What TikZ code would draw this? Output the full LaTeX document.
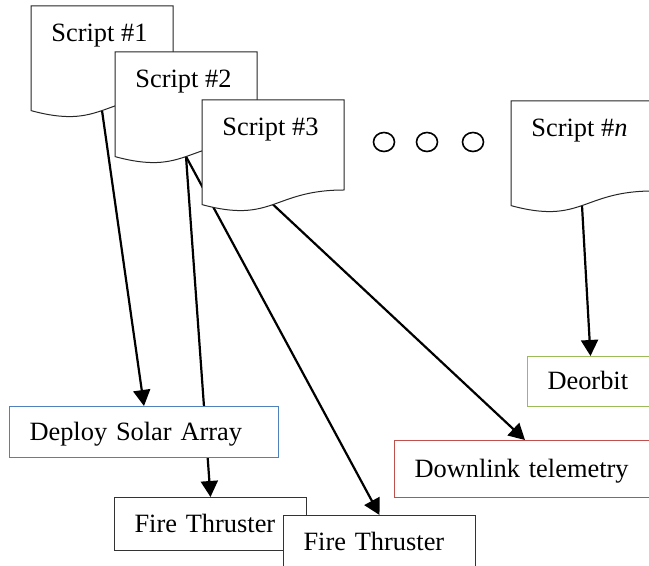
\documentclass[tikz,border=0pt]{standalone}
\usepackage{fontspec}
\setmainfont{Liberation Serif}
\usepackage{tikz}
\usetikzlibrary{arrows.meta,positioning,backgrounds}

\definecolor{solarBlue}{RGB}{79,129,189}
\definecolor{linkRed}{RGB}{192,80,77}
\definecolor{orbitGreen}{RGB}{155,187,89}

% one script sheet: name, x, y (top left), label
\newcommand{\scriptdoc}[4]{%
  \begin{scope}[shift={(#2,#3)}]
    \draw[doc] (0,0) -- (142,0) -- (142,90)
      .. controls (71,90) and (71,124) .. (0,104.6) -- cycle;
    \node[doctext] (#1) at (20,36) {#4};
    \coordinate (#1b) at (71,104.5);
  \end{scope}}

\begin{document}
\begin{tikzpicture}[x=0.5pt, y=-0.5pt,
      font=\fontsize{13.2}{15}\selectfont,
      doc/.style={draw=black!85, fill=white, line width=0.5pt},
      doctext/.style={anchor=base west, inner sep=0pt},
      bx/.style={draw, fill=white, line width=0.5pt, anchor=north west,
                 align=left, inner xsep=10pt, inner ysep=0pt, text depth=1pt},
      arr/.style={-{Triangle[length=8pt,width=8.5pt]}, line width=1.1pt}
    ]
      \useasboundingbox (0,0) rectangle (649,566);
      \clip (0,0) rectangle (649,566);
      % Scripts
      \scriptdoc{s1}{31}{6}{Script \#1}
      \scriptdoc{s2}{115}{52}{Script \#2}
      \scriptdoc{s3}{202}{100}{Script \#3}
      \scriptdoc{sn}{511}{101}{Script \#\textit{n}}
      % dots between the scripts
      \foreach \cx in {384,427,473}
        \draw[line width=0.8pt] (\cx,142) ellipse [x radius=10.5, y radius=9.5];
      % Actions
      \node[bx, draw=solarBlue, text width=114.5pt, minimum height=25.5pt] (deploy) at (9,406)
        {Deploy Solar Array};
      \node[bx, draw=black!80, text width=76pt, minimum height=26.5pt] (fire1) at (114,497)
        {Fire Thruster};
      \node[bx, draw=black!80, text width=76pt, minimum height=26.5pt] (fire2) at (283,515)
        {Fire Thruster};
      \node[bx, draw=linkRed, text width=110.5pt, minimum height=28.5pt] (down) at (394,440)
        {Downlink telemetry};
      \node[bx, draw=orbitGreen, text width=43pt, minimum height=25pt] (deorbit) at (527,356)
        {Deorbit};
      % Arrows
      \begin{scope}[on background layer]
        \draw[arr] (s1b) -- (deploy.north);
        \draw[arr] (s2b) -- (fire1.north);
        \draw[arr] (s2b) -- (fire2.north);
        \draw[arr] (s3b) -- (down.north);
        \draw[arr] (snb) -- (deorbit.north);
      \end{scope}
    \end{tikzpicture}
\end{document}
